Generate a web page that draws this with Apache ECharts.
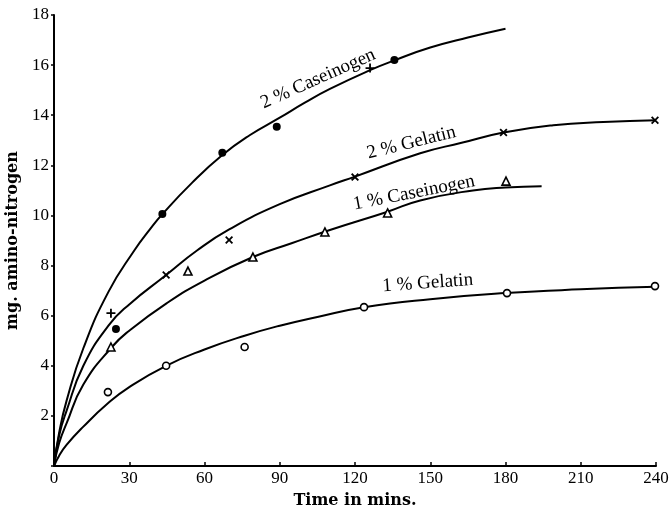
<!DOCTYPE html>
<html><head><meta charset="utf-8">
<script src="https://cdn.jsdelivr.net/npm/echarts@6/dist/echarts.min.js"></script>
<style>html,body{margin:0;padding:0;background:#fff}#c{width:669px;height:512px}</style>
</head><body><div id="c"></div>
<script>
// ---- data (minutes, mg amino-nitrogen) ----
const xTicks = [0, 30, 60, 90, 120, 150, 180, 210, 240];
const yTicks = [2, 4, 6, 8, 10, 12, 14, 16, 18];

const caseinogen2Curve = [[0,0],[2,1.3],[5,2.6],[11.7,4.7],[21.7,6.95],[32,8.6],[38.3,9.45],[43.2,10.05],[55,11.3],[67,12.4],[78,13.2],[90,13.9],[100,14.5],[110,15.05],[126,15.8],[136,16.2],[150,16.7],[165,17.1],[180,17.45]];
const gelatin2Curve = [[0,0],[2,1.2],[5,2.2],[11.7,4.0],[21.7,5.6],[30,6.45],[44.7,7.62],[57,8.6],[70,9.45],[90,10.45],[110,11.2],[120,11.55],[146,12.48],[162.5,12.9],[179.2,13.31],[199,13.6],[219,13.73],[240,13.8]];
const caseinogen1Curve = [[0,0],[2,0.9],[5,1.7],[11.7,3.25],[23,4.74],[30,5.4],[45,6.5],[60,7.4],[79.3,8.34],[95,8.9],[110,9.42],[133,10.15],[146,10.6],[167,11.0],[180,11.12],[194.4,11.17]];
const gelatin1Curve = [[0,0],[2,0.4],[5,0.84],[11.7,1.57],[21.5,2.5],[30,3.15],[44.7,4.0],[60,4.65],[76,5.2],[90,5.6],[105,5.95],[123.6,6.34],[150,6.66],[180,6.9],[210,7.05],[240,7.15]];

const caseinogen2Points = [[24.7,5.47],[43.2,10.06],[67.1,12.5],[88.8,13.54],[135.7,16.2]];
const plusPoints = [[22.7,6.1],[126,15.88]];
const gelatin2Points = [[44.7,7.62],[69.8,9.02],[120,11.53],[179.2,13.31],[239.6,13.8]];
const caseinogen1Points = [[22.7,4.75],[53.4,7.78],[79.3,8.34],[108,9.34],[133,10.1],[180.2,11.37]];
const gelatin1Points = [[21.5,2.95],[44.7,4.0],[76,4.75],[123.6,6.34],[180.6,6.9],[239.6,7.18]];

const curveLabels = ['2 % Caseinogen', '2 % Gelatin', '1 % Caseinogen', '1 % Gelatin'];
const labelAnchors = [[105.3,15.45],[142.5,12.9],[143.5,10.9],[149,7.3]];
const labelAngles = [24, 14, 11, 4];

// ---- chart ----
const serif = '"Liberation Serif", "DejaVu Serif", serif';
const titleFont = '"DejaVu Serif", serif';
const chart = echarts.init(document.getElementById('c'), null, {renderer: 'canvas'});
const xPath = 'path://M0,1.6L1.6,0L5,3.4L8.4,0L10,1.6L6.6,5L10,8.4L8.4,10L5,6.6L1.6,10L0,8.4L3.4,5Z';
const plusPath = 'path://M4,0H6V4H10V6H6V10H4V6H0V4H4Z';

function curve(data) {
  return {type: 'line', data: data, smooth: 0.5, showSymbol: false, symbol: 'none',
    lineStyle: {color: '#000', width: 2}, silent: true, z: 2};
}
function pts(data, symbol, size, fill, border) {
  return {type: 'scatter', data: data, symbol: symbol, symbolSize: size, silent: true, z: 3,
    itemStyle: {color: fill, borderColor: '#000', borderWidth: border, opacity: 1}};
}

chart.setOption({
  animation: false,
  backgroundColor: '#fff',
  grid: {left: 54, right: 13, top: 15, bottom: 46, containLabel: false, outerBoundsMode: 'none'},
  xAxis: {
    type: 'value', min: 0, max: 240, interval: 30,
    name: 'Time in mins.', nameLocation: 'middle', nameGap: 27,
    nameTextStyle: {fontFamily: titleFont, fontSize: 16, fontWeight: 'bold', color: '#000'},
    axisLine: {lineStyle: {color: '#000', width: 2}},
    axisTick: {inside: true, length: 4, lineStyle: {color: '#000', width: 1.5}},
    axisLabel: {fontFamily: serif, fontSize: 17, color: '#000', margin: 4},
    splitLine: {show: false}
  },
  yAxis: {
    type: 'value', min: 0, max: 18, interval: 2,
    name: 'mg. amino-nitrogen', nameLocation: 'middle', nameGap: 28,
    nameTextStyle: {fontFamily: titleFont, fontSize: 16, fontWeight: 'bold', color: '#000'},
    axisLine: {lineStyle: {color: '#000', width: 2}},
    axisTick: {inside: false, length: 3, lineStyle: {color: '#000', width: 1.5}},
    axisLabel: {fontFamily: serif, fontSize: 17, color: '#000', margin: 5,
      formatter: v => (yTicks.indexOf(v) >= 0 ? String(v) : '')},
    splitLine: {show: false}
  },
  series: [
    curve(caseinogen2Curve), curve(gelatin2Curve), curve(caseinogen1Curve), curve(gelatin1Curve),
    pts(caseinogen2Points, 'circle', 8, '#000', 0),
    pts(plusPoints, plusPath, 9, '#000', 0),
    pts(gelatin2Points, xPath, 8, '#000', 0),
    pts(caseinogen1Points, 'triangle', 8, '#fff', 1.6),
    pts(gelatin1Points, 'circle', 7, '#fff', 1.6)
  ]
});

const texts = curveLabels.map((t, i) => {
  const p = chart.convertToPixel({gridIndex: 0}, labelAnchors[i]);
  return {type: 'text', x: p[0], y: p[1], rotation: labelAngles[i] * Math.PI / 180,
    style: {text: t, fontFamily: serif, fontSize: 19, fill: '#000', align: 'center', verticalAlign: 'middle'}};
});
chart.setOption({graphic: texts});
</script>
</body></html>
